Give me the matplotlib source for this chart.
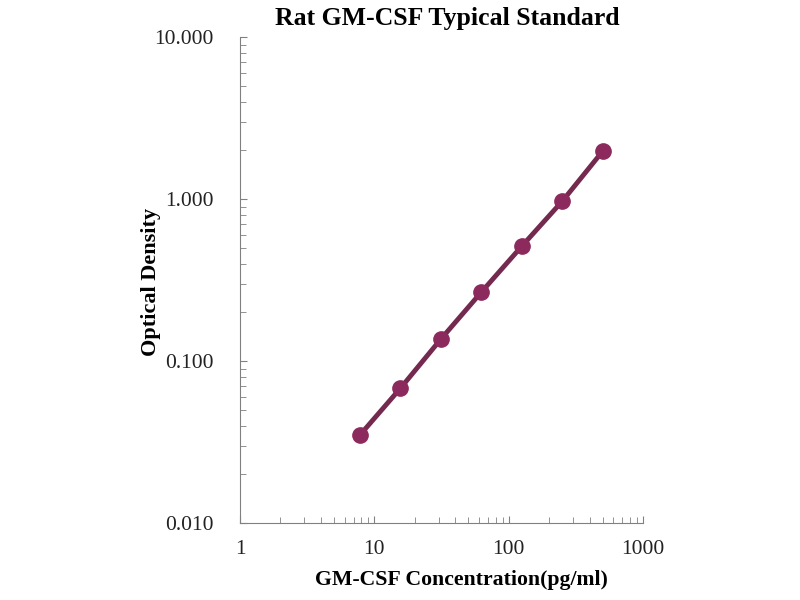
import matplotlib
matplotlib.use("Agg")
import matplotlib.pyplot as plt
from matplotlib.ticker import FixedLocator, FixedFormatter, LogLocator, NullFormatter

plt.rcParams["font.family"] = ["Liberation Serif", "DejaVu Serif"]

# standard curve points
conc = [7.8, 15.6, 31.25, 62.5, 125, 250, 500]
od = [0.035, 0.068, 0.137, 0.267, 0.513, 0.972, 1.98]

x_ticks = [1, 10, 100, 1000]
x_tick_labels = ["1", "10", "100", "1000"]
y_ticks = [0.01, 0.1, 1, 10]
y_tick_labels = ["0.010", "0.100", "1.000", "10.000"]

fig = plt.figure(figsize=(8, 6), dpi=100)
ax = fig.add_axes([0.3, 0.128, 0.504, 0.81])

ax.plot(conc, od, color="#74294F", linewidth=3.5, marker="o",
        markersize=11, markerfacecolor="#8C2A5E", markeredgecolor="#8C2A5E")

ax.set_xscale("log")
ax.set_yscale("log")
ax.set_xlim(1, 1000)
ax.set_ylim(0.01, 10)

ax.xaxis.set_major_locator(FixedLocator(x_ticks))
ax.xaxis.set_major_formatter(FixedFormatter(x_tick_labels))
ax.yaxis.set_major_locator(FixedLocator(y_ticks))
ax.yaxis.set_major_formatter(FixedFormatter(y_tick_labels))
ax.xaxis.set_minor_locator(LogLocator(base=10, subs=range(2, 10)))
ax.yaxis.set_minor_locator(LogLocator(base=10, subs=range(2, 10)))
ax.xaxis.set_minor_formatter(NullFormatter())
ax.yaxis.set_minor_formatter(NullFormatter())

ax.tick_params(which="both", direction="in", color="#808080", labelsize=15.5,
               labelcolor="#222222")
ax.tick_params(which="major", length=5)
ax.tick_params(which="minor", length=4)
ax.tick_params(axis="y", pad=19)
ax.tick_params(axis="x", pad=12)

for side in ["top", "right"]:
    ax.spines[side].set_visible(False)
for side in ["left", "bottom"]:
    ax.spines[side].set_color("#808080")

ax.set_title("Rat GM-CSF Typical Standard", fontsize=18.5, fontweight="bold",
             pad=9, x=0.515)
ax.set_xlabel("GM-CSF Concentration(pg/ml)", fontsize=15.7, fontweight="bold")
ax.xaxis.set_label_coords(0.548, -0.097)
ax.set_ylabel("Optical Density", fontsize=16, fontweight="bold")
ax.yaxis.set_label_coords(-0.196, 0.496)

fig.savefig("out.png", dpi=100)
